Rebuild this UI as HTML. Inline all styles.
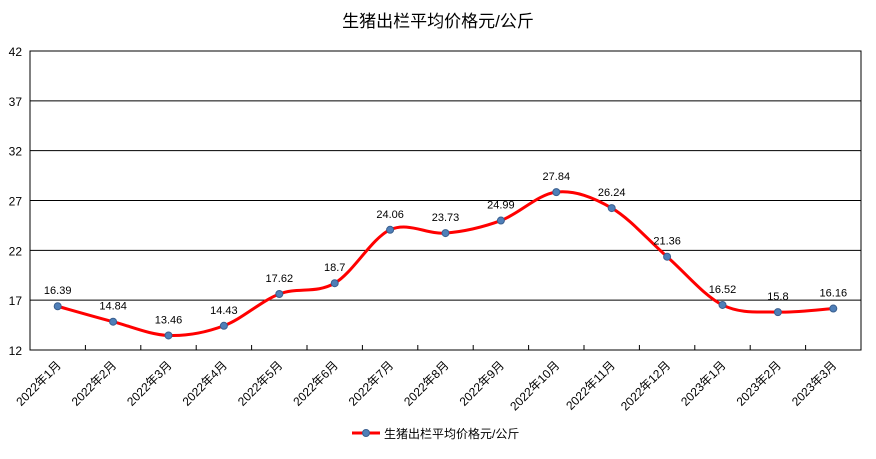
<!DOCTYPE html>
<html><head><meta charset="utf-8"><style>
body{margin:0;background:#fff;}
svg text{font-family:"Liberation Sans","Noto Sans CJK SC",sans-serif;}
</style></head><body>
<svg width="876" height="454" xmlns="http://www.w3.org/2000/svg">
<text x="438" y="27" text-anchor="middle" font-size="17" fill="#000">生猪出栏平均价格元/公斤</text>
<g id="grid"></g>
<g id="axes"></g>
<path id="line" fill="none" stroke="#ff0000" stroke-width="3"/>
<g id="pts"></g>
<g>
<line x1="352" y1="433" x2="380" y2="433" stroke="#ff0000" stroke-width="3"/>
<circle cx="366" cy="433" r="3.5" fill="#4f7fb8" stroke="#3a5f8f"/>
<text x="384" y="438" font-size="12">生猪出栏平均价格元/公斤</text>
</g>
</svg>
<script>
const categories=["2022年1月","2022年2月","2022年3月","2022年4月","2022年5月","2022年6月","2022年7月","2022年8月","2022年9月","2022年10月","2022年11月","2022年12月","2023年1月","2023年2月","2023年3月"];
const values=[16.39,14.84,13.46,14.43,17.62,18.7,24.06,23.73,24.99,27.84,26.24,21.36,16.52,15.8,16.16];
const yTicks=[12,17,22,27,32,37,42];
const L=30,R=861,T=51,B=350,ymin=12,ymax=42;
const bw=(R-L)/categories.length;
const xs=i=>L+bw*(i+0.5);
const ys=v=>B-(v-ymin)/(ymax-ymin)*(B-T);
const NS="http://www.w3.org/2000/svg";
function mk(tag,attrs,parent,txt){const e=document.createElementNS(NS,tag);for(const k in attrs)e.setAttribute(k,attrs[k]);if(txt!=null)e.textContent=txt;parent.appendChild(e);return e;}
const grid=document.getElementById('grid'),axes=document.getElementById('axes');
yTicks.forEach(t=>{
 const y=ys(t);
 const l=mk('line',{x1:L,x2:R,y1:y,y2:y,stroke:'#000','stroke-width':1},grid);
 
 
 const tx=mk('text',{x:L-8,y:y+5,'text-anchor':'end','font-size':12},axes,String(t));
 
 
});
const fr=mk('rect',{x:L,y:T,width:R-L,height:B-T,fill:'none',stroke:'#000','stroke-width':1},axes);


categories.forEach((c,i)=>{
 const tx=L+bw*(i+1);
 if(i<categories.length-1){const tk=mk('line',{x1:tx,x2:tx,y1:B,y2:B-5,stroke:'#000'},axes);
 
 }
 const x=xs(i)+4,y=B+16;
 const t=mk('text',{x:x,y:y,'text-anchor':'end','font-size':12,transform:`rotate(-45 ${x} ${y})`},axes,c);
 
 
});
const P=values.map((v,i)=>[xs(i),ys(v)]);
let d=`M${P[0][0]},${P[0][1]}`;
for(let i=0;i<P.length-1;i++){
 const p0=P[Math.max(0,i-1)],p1=P[i],p2=P[i+1],p3=P[Math.min(P.length-1,i+2)];
 const k=1/6;
 d+=` C${p1[0]+(p2[0]-p0[0])*k},${p1[1]+(p2[1]-p0[1])*k} ${p2[0]-(p3[0]-p1[0])*k},${p2[1]-(p3[1]-p1[1])*k} ${p2[0]},${p2[1]}`;
}
document.getElementById('line').setAttribute('d',d);
const pts=document.getElementById('pts');
values.forEach((v,i)=>{
 const c=mk('circle',{cx:xs(i),cy:ys(v),r:3.5,fill:'#4f7fb8',stroke:'#3a5f8f'},pts);
 
 
 const t=mk('text',{x:xs(i),y:ys(v)-12,'text-anchor':'middle','font-size':11},pts,String(v));
 
 
});
</script>
</body></html>
